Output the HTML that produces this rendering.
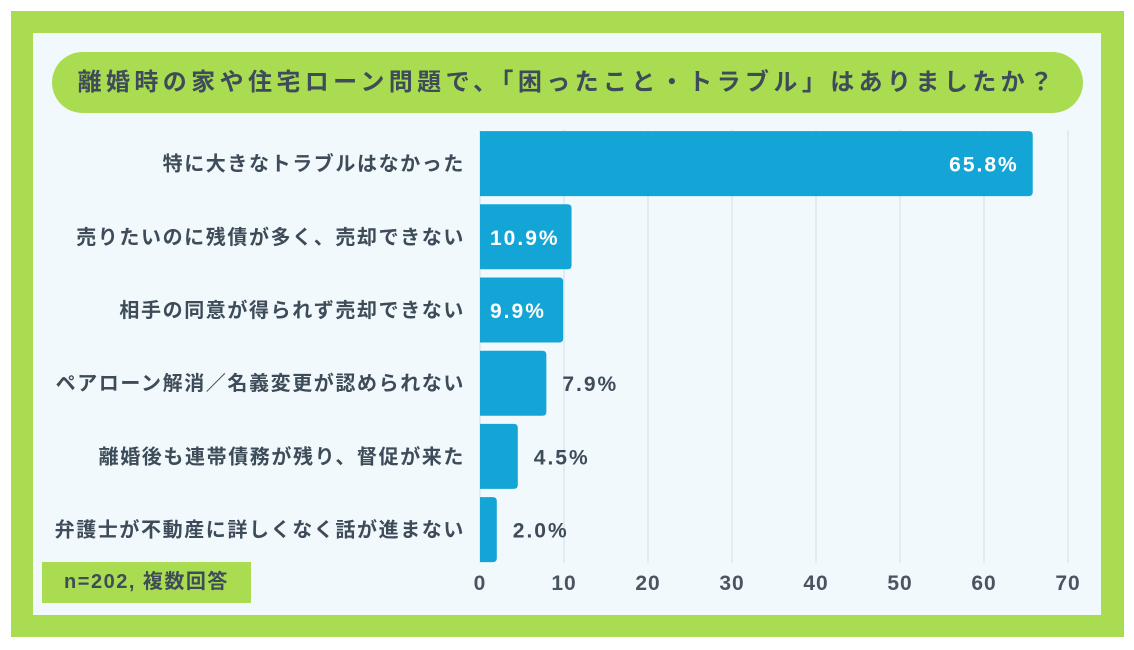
<!DOCTYPE html>
<html><head><meta charset="utf-8">
<style>
body{margin:0;width:1134px;height:650px;background:#fff;overflow:hidden;font-family:"Liberation Sans","Noto Sans CJK JP",sans-serif;}
#frame{position:absolute;left:11px;top:11px;width:1113px;height:626px;background:#aadc52;}
#panel{position:absolute;left:33px;top:33px;width:1068px;height:582px;background:#f1f9fd;}
#title{position:absolute;left:52px;top:52px;width:1031px;height:61px;border-radius:31px;background:#aadc52;color:#3e4c59;font-weight:bold;font-size:24px;line-height:61px;text-align:center;letter-spacing:4.4px;}
#note{position:absolute;left:42px;top:562px;width:209px;height:41px;background:#aadc52;color:#3e4c59;font-weight:bold;font-size:20px;line-height:41px;text-align:center;letter-spacing:1.5px;}
svg{position:absolute;left:0;top:0;}
</style></head><body>
<div id="frame"></div>
<div id="panel"></div>
<div id="title">離婚時の家や住宅ローン問題で、「困ったこと・トラブル」はありましたか？</div>
<div id="note">n=202, 複数回答</div>
<svg id="chart" width="1134" height="650"></svg>
<script>
const categories=["特に大きなトラブルはなかった","売りたいのに残債が多く、売却できない","相手の同意が得られず売却できない","ペアローン解消／名義変更が認められない","離婚後も連帯債務が残り、督促が来た","弁護士が不動産に詳しくなく話が進まない"];
const values=[65.8,10.9,9.9,7.9,4.5,2.0];
const valueLabels=["65.8%","10.9%","9.9%","7.9%","4.5%","2.0%"];
const ticks=[0,10,20,30,40,50,60,70];
const NS="http://www.w3.org/2000/svg";
const svg=document.getElementById('chart');
const x0=480,k=8.4,top0=127,band=73.2,bh=65;
const x=v=>x0+v*k;
const y=i=>top0+i*band+(band-bh)/2;
function mk(t,a){const e=document.createElementNS(NS,t);for(const n in a)e.setAttribute(n,a[n]);svg.appendChild(e);return e;}
ticks.forEach((t,i)=>{
  if(t>0){const l=mk('line',{x1:x(t),x2:x(t),y1:130,y2:563,stroke:'#d5dde3','stroke-width':1});
  
  }
  const tx=mk('text',{x:x(t),y:590,'text-anchor':'middle','font-size':21,'font-weight':'bold',fill:'#4a5560','letter-spacing':1});
  tx.textContent=t;
  
  
});
mk('line',{x1:x0,x2:x0,y1:130,y2:563,stroke:'#d5dde3','stroke-width':1});
categories.forEach((c,i)=>{
  const yy=y(i),w=x(values[i])-x0;
  const r=mk('path',{d:`M${x0},${yy}H${x0+w-4}Q${x0+w},${yy} ${x0+w},${yy+4}V${yy+bh-4}Q${x0+w},${yy+bh} ${x0+w-4},${yy+bh}H${x0}Z`,fill:'#13a5d6'});
  
  
  const lb=mk('text',{x:465,y:yy+bh/2+7,'text-anchor':'end','font-size':20,'font-weight':'bold',fill:'#3e4c59','letter-spacing':1.6});
  lb.textContent=c;
  
  
  let vt;
  const va={'font-size':21,'font-weight':'bold','letter-spacing':2};
  if(values[i]>30) vt=mk('text',Object.assign({x:x0+w-14,y:yy+bh/2+8,'text-anchor':'end',fill:'#fff'},va));
  else if(values[i]>9) vt=mk('text',Object.assign({x:x0+10,y:yy+bh/2+8,fill:'#fff'},va));
  else vt=mk('text',Object.assign({x:x0+w+16,y:yy+bh/2+8,fill:'#3e4c59'},va));
  vt.textContent=valueLabels[i];
  
  
});
</script>
</body></html>
